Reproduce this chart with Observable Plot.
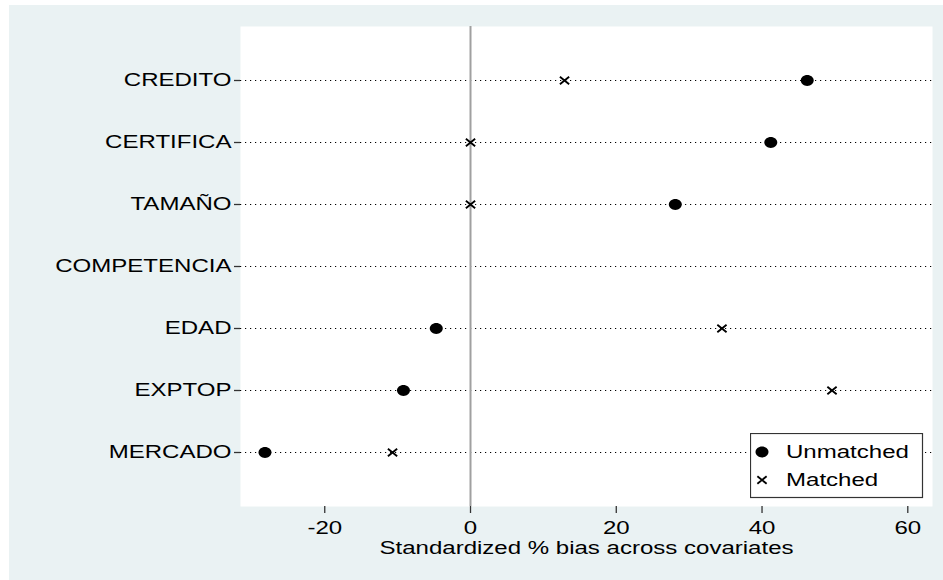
<!DOCTYPE html>
<html>
<head>
<meta charset="utf-8">
<script src="https://cdn.jsdelivr.net/npm/d3@7"></script>
<script src="https://cdn.jsdelivr.net/npm/@observablehq/plot@0.6"></script>
<style>
  html, body { margin: 0; padding: 0; background: #ffffff; }
  #wrap { position: relative; width: 943px; height: 580px; overflow: hidden; }
  #chart { position: absolute; left: 9px; top: 5px; }
  #legend { position: absolute; left: 750px; top: 433px; }
</style>
</head>
<body>
<div id="wrap">
  <div id="chart"></div>
  <svg id="legend" width="174" height="66"></svg>
</div>
<script>
// ---- data ----
const categories = ["CREDITO", "CERTIFICA", "TAMAÑO", "COMPETENCIA", "EDAD", "EXPTOP", "MERCADO"];
const unmatched = [46.2, 41.2, 28.1, null, -4.7, -9.2, -28.2];
const matched = [12.9, 0.0, 0.0, null, 34.5, 49.6, -10.7];
const xTicks = [-20, 0, 20, 40, 60];
const xDomain = [-31.56, 63.39];
const zeroLine = [0];
const xLabel = "Standardized % bias across covariates";
const legendLabels = ["Unmatched", "Matched"];

const STRETCH = 1.3;
const FONT = "'Liberation Sans', Arial, sans-serif";
const FS = 18.5;

const unmatchedData = categories.map((k, i) => ({k, v: unmatched[i]})).filter(d => d.v != null);
const matchedData = categories.map((k, i) => ({k, v: matched[i]})).filter(d => d.v != null);

// horizontally stretched symbols (original picture is stretched)
const ellipseSym = {
  draw(ctx, size) {
    const r = Math.sqrt(size / Math.PI), rx = r * 1.2, ry = r, k = 0.5523;
    ctx.moveTo(rx, 0);
    ctx.bezierCurveTo(rx, ry * k, rx * k, ry, 0, ry);
    ctx.bezierCurveTo(-rx * k, ry, -rx, ry * k, -rx, 0);
    ctx.bezierCurveTo(-rx, -ry * k, -rx * k, -ry, 0, -ry);
    ctx.bezierCurveTo(rx * k, -ry, rx, -ry * k, rx, 0);
    ctx.closePath();
  }
};
const crossSym = {
  draw(ctx, size) {
    const r = Math.sqrt(size / Math.PI), rx = r * 1.25, ry = r;
    ctx.moveTo(-rx, -ry); ctx.lineTo(rx, ry);
    ctx.moveTo(rx, -ry); ctx.lineTo(-rx, ry);
  }
};

const chart = Plot.plot({
  width: 934,
  height: 575,
  marginLeft: 231,
  marginRight: 11,
  marginTop: 21,
  marginBottom: 74,
  style: {background: "#eaf2f3", fontFamily: FONT, fontSize: FS + "px", color: "#000", overflow: "visible"},
  x: {domain: xDomain, ticks: xTicks},
  y: {type: "point", domain: categories, padding: 0.85},
  marks: [
    Plot.frame({fill: "#ffffff", stroke: null}),
    Plot.ruleY(categories, {stroke: "#000", strokeWidth: 1.2, strokeDasharray: "1.2,3.8"}),
    Plot.ruleX(zeroLine, {stroke: "#a0a0a0", strokeWidth: 2}),
    Plot.axisX({ticks: xTicks, tickSize: 7, tickPadding: 7, tickFormat: d => String(d), line: true, label: null, stroke: "#333", strokeWidth: 1.3, fill: "#000"}),
    Plot.axisY({tickSize: 6, tickPadding: 3, line: true, label: null, stroke: "#333", strokeWidth: 1.3, fill: "#000"}),
    Plot.dot(unmatchedData, {x: "v", y: "k", symbol: ellipseSym, r: 5.4, fill: "#000", stroke: "none"}),
    Plot.dot(matchedData, {x: "v", y: "k", symbol: crossSym, r: 3.7, fill: "none", stroke: "#000", strokeWidth: 1.9}),
    Plot.text([xLabel], {frameAnchor: "bottom", dy: 47, fill: "#000"})
  ]
});

// stretch all text horizontally like the reference
chart.querySelectorAll("text").forEach(t => {
  const tr = t.getAttribute("transform");
  if (tr) t.setAttribute("transform", tr + ` scale(${STRETCH},1)`);
  else {
    const x = +t.getAttribute("x") || 0, y = +t.getAttribute("y") || 0;
    t.removeAttribute("x"); t.removeAttribute("y");
    t.setAttribute("transform", `translate(${x},${y}) scale(${STRETCH},1)`);
  }
});
document.getElementById("chart").appendChild(chart);

// legend
const lg = d3.select("#legend");
lg.append("rect").attr("x", 0.5).attr("y", 0.5).attr("width", 172).attr("height", 64)
  .attr("fill", "#fff").attr("stroke", "#333").attr("stroke-width", 1.2);
const ep = d3.path(); ellipseSym.draw(ep, Math.PI * 5.4 * 5.4);
const cp = d3.path(); crossSym.draw(cp, Math.PI * 3.7 * 3.7);
lg.append("path").attr("d", ep.toString()).attr("transform", "translate(12,19)").attr("fill", "#000");
lg.append("path").attr("d", cp.toString()).attr("transform", "translate(12,47)").attr("fill", "none")
  .attr("stroke", "#000").attr("stroke-width", 1.9);
legendLabels.forEach((s, i) => {
  lg.append("text").text(s)
    .attr("transform", `translate(36,${19 + 28 * i}) scale(${STRETCH},1)`)
    .attr("dy", "0.35em")
    .attr("font-family", FONT).attr("font-size", FS).attr("fill", "#000");
});
</script>
</body>
</html>
